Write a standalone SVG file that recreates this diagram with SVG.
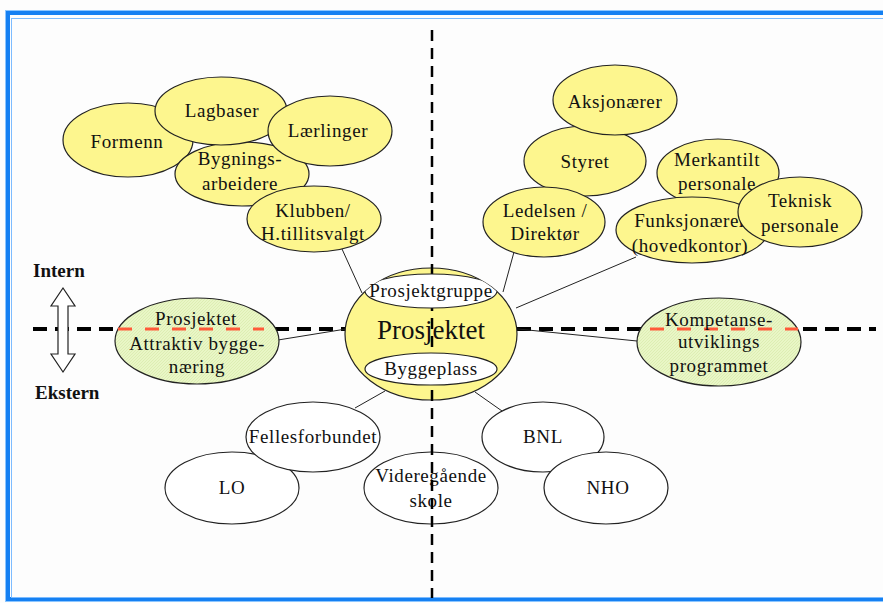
<svg xmlns="http://www.w3.org/2000/svg" width="883" height="603" viewBox="0 0 883 603" font-family="'Liberation Serif', 'DejaVu Serif', serif">
  <defs>
    <pattern id="hatch" width="3" height="3" patternUnits="userSpaceOnUse">
      <rect width="3" height="3" fill="#e9f6c6"/>
      <path d="M0 3 L3 0" stroke="#d9ecae" stroke-width="0.8"/>
    </pattern>
    <clipPath id="coreClip">
      <ellipse cx="431" cy="334" rx="86" ry="66"/>
    </clipPath>
  </defs>
  <style>
    .yel { fill: #fdf68e; stroke: #222; stroke-width: 1.2; }
    .grn { fill: url(#hatch); stroke: #222; stroke-width: 1.2; }
    .wht { fill: #ffffff; stroke: #222; stroke-width: 1.2; }
    .t { font-size: 19px; fill: #111; text-anchor: middle; letter-spacing: 0.6px; }
    .big { font-size: 27px; fill: #111; text-anchor: middle; }
    .side { font-size: 19px; font-weight: bold; fill: #111; }
    .link { stroke: #222; stroke-width: 1; fill: none; }
    .axisH { stroke: #000; stroke-width: 4; stroke-dasharray: 14 8; fill: none; }
    .axisV { stroke: #000; stroke-width: 2.5; stroke-dasharray: 11 7; fill: none; }
    .squig { stroke: #ff5a3a; stroke-width: 3; stroke-dasharray: 14 13; fill: none; }
  </style>

  <!-- page background and blue frame -->
  <rect x="0" y="0" width="883" height="603" fill="#fdfdfd"/>
  <rect x="5.5" y="10.5" width="900" height="591" fill="none" stroke="#8cc6ff" stroke-width="1"/>
  <rect x="8" y="13" width="900" height="586" fill="none" stroke="#1580f2" stroke-width="4"/>
  <rect x="11.5" y="18.5" width="900" height="579" fill="none" stroke="#7dbcff" stroke-width="1"/>

  <!-- horizontal axis (beneath nodes) -->
  <line class="axisH" x1="33" y1="329" x2="876" y2="329"/>

  <!-- connectors -->
  <g id="connectors">
    <line class="link" x1="342" y1="249" x2="362" y2="293"/>
    <line class="link" x1="514" y1="252" x2="503" y2="292"/>
    <line class="link" x1="636" y1="257" x2="516" y2="308"/>
    <line class="link" x1="278" y1="340" x2="346" y2="329"/>
    <line class="link" x1="518" y1="329" x2="637" y2="341"/>
    <line class="link" x1="355" y1="408" x2="385" y2="391"/>
    <line class="link" x1="475" y1="392" x2="502" y2="411"/>
  </g>

  <!-- Intern / Ekstern indicator -->
  <g id="scope">
    <text class="side" x="33" y="277">Intern</text>
    <text class="side" x="35" y="399">Ekstern</text>
    <polygon points="63,288 75,306 68,306 68,354 75,354 63,372 51,354 58,354 58,306 51,306" fill="#fff" stroke="#222" stroke-width="1.2"/>
  </g>

  <!-- internal nodes, left cluster -->
  <g id="formenn">
    <ellipse class="yel" cx="128" cy="140" rx="65" ry="37"/>
    <text class="t" x="127" y="148">Formenn</text>
  </g>
  <g id="bygningsarbeidere">
    <ellipse class="yel" cx="242" cy="174" rx="67" ry="32"/>
    <text class="t" x="240" y="165">Bygnings-</text>
    <text class="t" x="240" y="190">arbeidere</text>
  </g>
  <g id="lagbaser">
    <ellipse class="yel" cx="221" cy="111" rx="66" ry="34"/>
    <text class="t" x="222" y="117">Lagbaser</text>
  </g>
  <g id="laerlinger">
    <ellipse class="yel" cx="330" cy="131" rx="62" ry="35"/>
    <text class="t" x="328" y="137">Lærlinger</text>
  </g>
  <g id="klubben">
    <ellipse class="yel" cx="314" cy="219" rx="67" ry="33"/>
    <text class="t" x="313" y="217">Klubben/</text>
    <text class="t" x="313" y="240">H.tillitsvalgt</text>
  </g>

  <!-- internal nodes, right cluster -->
  <g id="styret">
    <ellipse class="yel" cx="585" cy="161" rx="61" ry="35"/>
    <text class="t" x="585" y="168">Styret</text>
  </g>
  <g id="aksjonaerer">
    <ellipse class="yel" cx="615" cy="100" rx="62" ry="35"/>
    <text class="t" x="615" y="108">Aksjonærer</text>
  </g>
  <g id="ledelsen">
    <ellipse class="yel" cx="544" cy="222" rx="61" ry="35"/>
    <text class="t" x="545" y="217">Ledelsen /</text>
    <text class="t" x="545" y="240">Direktør</text>
  </g>
  <g id="merkantilt">
    <ellipse class="yel" cx="718" cy="173" rx="61" ry="34"/>
    <text class="t" x="717" y="166">Merkantilt</text>
    <text class="t" x="717" y="190">personale</text>
  </g>
  <g id="funksjonaerer">
    <ellipse class="yel" cx="692" cy="230" rx="76" ry="33"/>
    <text class="t" x="690" y="227">Funksjonærer</text>
    <text class="t" x="690" y="252">(hovedkontor)</text>
  </g>
  <g id="teknisk">
    <ellipse class="yel" cx="800" cy="212" rx="62" ry="35"/>
    <text class="t" x="800" y="207">Teknisk</text>
    <text class="t" x="800" y="232">personale</text>
  </g>

  <!-- boundary nodes sitting on the axis -->
  <g id="attraktiv">
    <ellipse class="grn" cx="197" cy="341" rx="82" ry="43"/>
    <line class="squig" x1="118" y1="329" x2="264" y2="329"/>
    <text class="t" x="196" y="325">Prosjektet</text>
    <text class="t" x="197" y="350">Attraktiv bygge-</text>
    <text class="t" x="197" y="373">næring</text>
  </g>
  <g id="kompetanse">
    <ellipse class="grn" cx="719" cy="342" rx="82" ry="44"/>
    <line class="squig" x1="650" y1="329" x2="798" y2="329"/>
    <text class="t" x="719" y="326">Kompetanse-</text>
    <text class="t" x="719" y="348">utviklings</text>
    <text class="t" x="719" y="372">programmet</text>
  </g>

  <!-- external nodes -->
  <g id="lo">
    <ellipse class="wht" cx="232" cy="488" rx="67" ry="36"/>
    <text class="t" x="232" y="494">LO</text>
  </g>
  <g id="fellesforbundet">
    <ellipse class="wht" cx="313" cy="437" rx="67" ry="35"/>
    <text class="t" x="313" y="443">Fellesforbundet</text>
  </g>
  <g id="bnl">
    <ellipse class="wht" cx="543" cy="437" rx="61" ry="35"/>
    <text class="t" x="543" y="443">BNL</text>
  </g>
  <g id="nho">
    <ellipse class="wht" cx="606" cy="488" rx="62" ry="36"/>
    <text class="t" x="608" y="494">NHO</text>
  </g>
  <g id="videregaende">
    <ellipse class="wht" cx="431" cy="488" rx="67" ry="36"/>
    <text class="t" x="431" y="482">Videregående</text>
    <text class="t" x="431" y="507">skole</text>
  </g>

  <!-- core node -->
  <g id="prosjektet">
    <ellipse class="yel" cx="431" cy="334" rx="86" ry="66"/>
    <text class="big" x="431" y="339">Prosjektet</text>
  </g>

  <!-- vertical axis, drawn over the core and lower nodes -->
  <line class="axisV" x1="432" y1="30" x2="432" y2="598"/>

  <g id="prosjektgruppe">
    <ellipse class="wht" cx="431" cy="291" rx="66" ry="17" clip-path="url(#coreClip)"/>
    <text class="t" x="431" y="297">Prosjektgruppe</text>
  </g>
  <g id="byggeplass">
    <ellipse class="wht" cx="431" cy="369" rx="66" ry="16" clip-path="url(#coreClip)"/>
    <text class="t" x="431" y="375">Byggeplass</text>
  </g>
</svg>
